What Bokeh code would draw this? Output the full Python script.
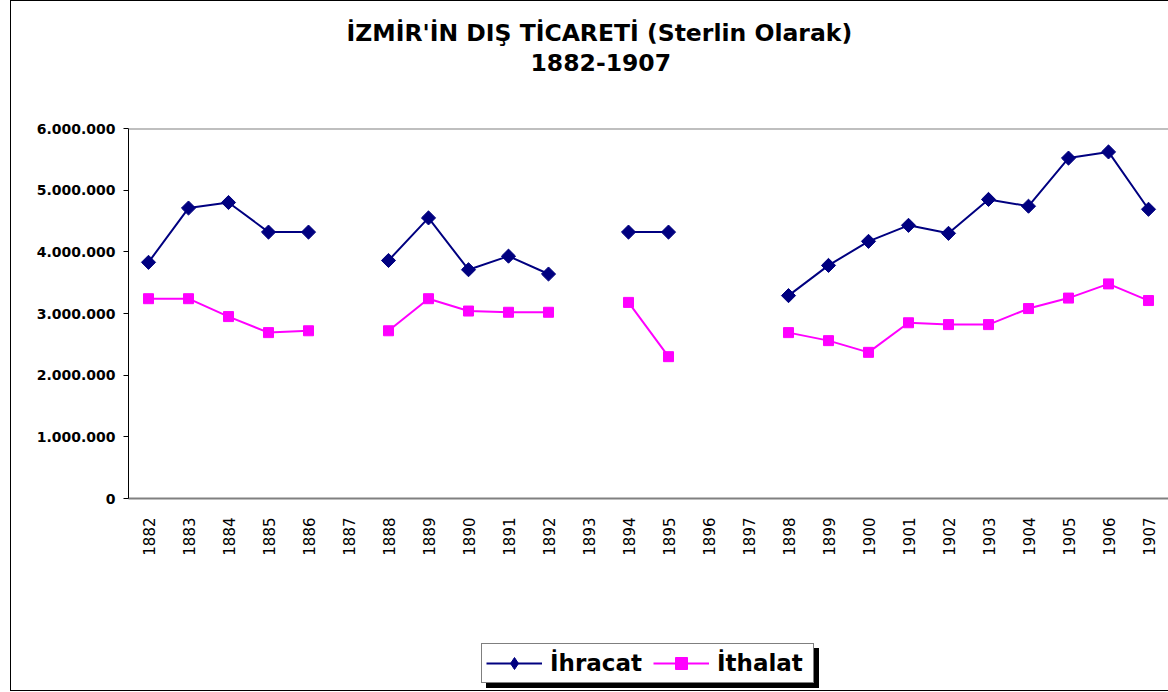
import math
import numpy as np
from bokeh.plotting import figure
from bokeh.layouts import column
from bokeh.models import (FactorRange, Range1d, FixedTicker, CustomJSTickFormatter,
                          Legend, LegendItem, Title, Span, ColumnDataSource,
                          InlineStyleSheet)
from bokeh.embed import file_html
from bokeh.resources import INLINE

# ---- data ----
years = ["1882", "1883", "1884", "1885", "1886", "1887", "1888", "1889", "1890",
         "1891", "1892", "1893", "1894", "1895", "1896", "1897", "1898", "1899",
         "1900", "1901", "1902", "1903", "1904", "1905", "1906", "1907"]

ihracat = [3830000, 4710000, 4800000, 4320000, 4320000, None, 3860000, 4550000,
           3710000, 3930000, 3640000, None, 4320000, 4320000, None, None,
           3290000, 3780000, 4170000, 4430000, 4300000, 4850000, 4740000,
           5520000, 5620000, 4690000]

ithalat = [3240000, 3240000, 2950000, 2690000, 2720000, None, 2720000, 3240000,
           3040000, 3020000, 3020000, None, 3180000, 2300000, None, None,
           2690000, 2560000, 2370000, 2850000, 2820000, 2820000, 3080000,
           3250000, 3480000, 3210000]

y_ticks = [0, 1000000, 2000000, 3000000, 4000000, 5000000, 6000000]

title_line1 = "İZMİR'İN DIŞ TİCARETİ (Sterlin Olarak)"
title_line2 = "1882-1907"
series_names = ["İhracat", "İthalat"]

FONT = "DejaVu Sans"
NAVY = "#000080"
MAGENTA = "#FF00FF"

src = ColumnDataSource(dict(
    year=years,
    ihr=np.array(ihracat, dtype=float),
    ith=np.array(ithalat, dtype=float),
))

# ---------------- main chart ----------------
p = figure(frame_width=1040, frame_height=370,
           x_range=FactorRange(factors=years),
           y_range=Range1d(0, 6000000),
           output_backend="svg", toolbar_location=None,
           min_border_left=128, min_border_right=0,
           min_border_top=128, min_border_bottom=142)

p.outline_line_color = None
p.xgrid.visible = False
p.ygrid.visible = False
p.background_fill_color = "white"
p.border_fill_color = "white"

# x axis
p.xaxis.axis_line_color = "#808080"
p.xaxis.axis_line_width = 2
p.xaxis.major_tick_line_color = None
p.xaxis.minor_tick_line_color = None
p.xaxis.major_tick_out = 0
p.xaxis.major_tick_in = 0
p.xaxis.major_label_orientation = math.pi / 2
p.xaxis.major_label_text_font = FONT
p.xaxis.major_label_text_font_size = "15px"
p.xaxis.major_label_text_color = "black"
p.xaxis.major_label_standoff = 19

# y axis
p.yaxis.ticker = FixedTicker(ticks=y_ticks)
p.yaxis.formatter = CustomJSTickFormatter(
    code=r"return Math.round(tick).toString().replace(/\B(?=(\d{3})+(?!\d))/g, '.');")
p.yaxis.axis_line_color = "black"
p.yaxis.axis_line_width = 1
p.yaxis.major_tick_line_color = "black"
p.yaxis.major_tick_out = 5
p.yaxis.major_tick_in = 0
p.yaxis.minor_tick_line_color = None
p.yaxis.major_label_text_font = FONT
p.yaxis.major_label_text_font_size = "14px"
p.yaxis.major_label_text_font_style = "bold"
p.yaxis.major_label_text_color = "black"
p.yaxis.major_label_standoff = 8

# top line at 6.000.000
p.add_layout(Span(location=6000000, dimension="width", line_color="#808080", line_width=2))

# series
DIAMOND = dict(marker="square", angle=math.pi / 4, size=10, fill_color=NAVY, line_color=NAVY)
SQUARE = dict(marker="square", size=10, fill_color=MAGENTA, line_color=MAGENTA)
p.line("year", "ihr", source=src, line_color=NAVY, line_width=2)
p.scatter("year", "ihr", source=src, **DIAMOND)
p.line("year", "ith", source=src, line_color=MAGENTA, line_width=2)
p.scatter("year", "ith", source=src, **SQUARE)

# titles (added nearest-first), with a blank spacer nearest the frame
p.add_layout(Title(text=" ", text_font_size="10px", standoff=40), "above")
p.add_layout(Title(text=title_line2, align="left", offset=402, standoff=10,
                   text_font=FONT, text_font_size="23.5px", text_font_style="bold",
                   text_color="black"), "above")
p.add_layout(Title(text=title_line1, align="left", offset=218, standoff=0,
                   text_font=FONT, text_font_size="23.5px", text_font_style="bold",
                   text_color="black"), "above")

# ---------------- legend strip (series drawn out of view, only the legend shows) ----
q = figure(width=1168, height=52, x_range=FactorRange(factors=years),
           y_range=Range1d(-2, -1),
           x_axis_type=None, y_axis_type=None,
           output_backend="svg", toolbar_location=None,
           min_border=0, min_border_left=0, min_border_right=0,
           min_border_top=0, min_border_bottom=0)
q.outline_line_color = None
q.xgrid.visible = False
q.ygrid.visible = False
q.background_fill_color = "white"
q.border_fill_color = "white"

k1 = q.line("year", "ihr", source=src, line_color=NAVY, line_width=2)
s1 = q.scatter("year", "ihr", source=src, marker="diamond", size=10,
               fill_color=NAVY, line_color=NAVY)
k2 = q.line("year", "ith", source=src, line_color=MAGENTA, line_width=2)
s2 = q.scatter("year", "ith", source=src, **SQUARE)

def make_legend(loc, shadow=False):
    labels = [" ", " "] if shadow else series_names
    return Legend(items=[LegendItem(label=labels[0], renderers=[k1, s1]),
                         LegendItem(label=labels[1], renderers=[k2, s2])],
                  location=loc, orientation="horizontal",
                  glyph_width=56, glyph_height=30, label_standoff=8, spacing=11,
                  padding=4, margin=0, label_width=92, label_height=28,
                  label_text_font=FONT, label_text_font_size="23px",
                  label_text_font_style="bold", label_text_color="black",
                  border_line_color="black", border_line_width=1,
                  background_fill_color="black" if shadow else "white",
                  background_fill_alpha=1.0)

q.add_layout(make_legend((358, 4), shadow=True))
q.add_layout(make_legend((353, 9)))

layout = column(p, q, spacing=0)
# outer chart border (left, top, bottom; right runs off the page)
layout.stylesheets = [InlineStyleSheet(css=(
    ":host::after { content: ''; position: absolute; left: 10px; top: 0px; "
    "width: 1158px; height: 691px; box-sizing: border-box; "
    "border: 1px solid black; border-right: none; pointer-events: none; }"))]

open("out.html", "w").write(file_html(layout, INLINE))
